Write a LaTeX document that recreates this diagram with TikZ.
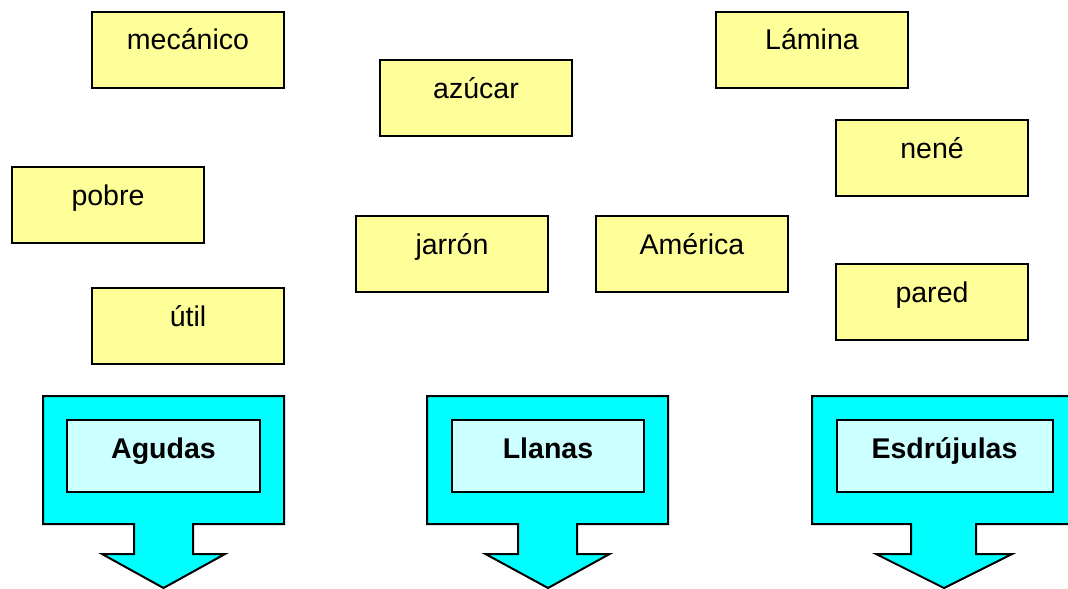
\documentclass[tikz,border=0pt]{standalone}
\usepackage{fontspec}
\setmainfont{Liberation Sans}
\definecolor{wordfill}{HTML}{FFFF99}
\definecolor{arrowfill}{HTML}{00FFFF}
\definecolor{labelfill}{HTML}{CCFFFF}
\begin{document}
\begin{tikzpicture}[x=0.75pt,y=-0.75pt,
  wordbox/.style={draw=black, fill=wordfill, line width=1.5pt, inner sep=0pt,
    minimum width=144pt, text height=28.5pt, text depth=28.5pt, anchor=base,
    font=\fontsize{21.4}{25}\selectfont},
  groupbox/.style={draw=black, fill=labelfill, line width=1.5pt, inner sep=0pt,
    text height=28.5pt, text depth=25.5pt, anchor=base,
    font=\fontsize{21.4}{25}\selectfont\bfseries},
  callout/.style={draw=black, fill=arrowfill, line width=1.5pt, line join=miter}]
\useasboundingbox (0,0) rectangle (1068,589);
\clip (0,0) rectangle (1068,589);

% words to sort
\node[wordbox] (mecanico) at (188,50)  {mecánico};
\node[wordbox] (azucar)   at (476,98)  {azúcar};
\node[wordbox] (lamina)   at (812,50)  {Lámina};
\node[wordbox] (nene)     at (932,158) {nené};
\node[wordbox] (pobre)    at (108,205) {pobre};
\node[wordbox] (jarron)   at (452,254) {jarrón};
\node[wordbox] (america)  at (692,254) {América};
\node[wordbox] (util)     at (188,326) {útil};
\node[wordbox] (pared)    at (932,302) {pared};

% down-arrow callouts
\draw[callout] (43,396) -- (284,396) -- (284,524) -- (193,524) -- (193,554)
  -- (225,554) -- (163.5,588) -- (102,554) -- (134,554) -- (134,524) -- (43,524) -- cycle;
\draw[callout] (427,396) -- (668,396) -- (668,524) -- (577,524) -- (577,554)
  -- (609.5,554) -- (548,588) -- (485.5,554) -- (518,554) -- (518,524) -- (427,524) -- cycle;
\draw[callout] (812,396) -- (1075,396) -- (1075,524) -- (976,524) -- (976,554)
  -- (1012,554) -- (944,588) -- (876,554) -- (911,554) -- (911,524) -- (812,524) -- cycle;

% group labels
\node[groupbox, minimum width=144.75pt] (agudas) at (163.5,458) {Agudas};
\node[groupbox, minimum width=144pt]    (llanas) at (548,458)   {Llanas};
\node[groupbox, minimum width=162pt]    (esdrujulas) at (944.5,458) {Esdrújulas};
\end{tikzpicture}
\end{document}
